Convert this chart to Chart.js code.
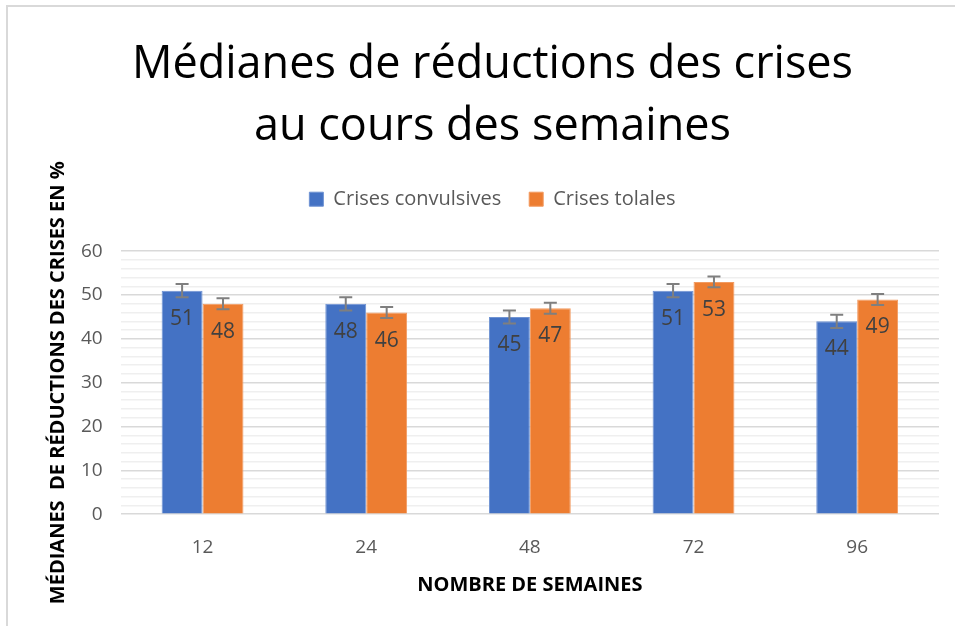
<!DOCTYPE html>
<html>
<head>
<meta charset="utf-8">
<script src="https://cdn.jsdelivr.net/npm/chart.js@4.4.1/dist/chart.umd.min.js"></script>
<style>
  body { margin: 0; background: #fff; }
  #wrap { position: relative; width: 955px; height: 626px; }
</style>
</head>
<body>
<div id="wrap"><canvas id="chart" width="955" height="626"></canvas></div>
<script>
'use strict';

var weeks = ['12', '24', '48', '72', '96'];
var convulsives = [51, 48, 45, 51, 44];
var totales = [48, 46, 47, 53, 49];
var convulsivesErr = [1.5, 1.5, 1.5, 1.5, 1.5];
var totalesErr = [1.25, 1.25, 1.25, 1.25, 1.25];
var seriesNames = ['Crises convulsives', 'Crises tolales'];
var titleLines = ['Médianes de réductions des crises', 'au cours des semaines'];

var fontName = "'Open Sans', 'Noto Sans', sans-serif";

// cadre gris en haut et a gauche, comme la capture
var framePlugin = {
   id: 'frame',
   beforeDraw: function(chart) {
      var ctx = chart.ctx;
      ctx.save();
      ctx.fillStyle = '#fff';
      ctx.fillRect(0, 0, chart.width, chart.height);
      ctx.strokeStyle = '#d9d9d9';
      ctx.lineWidth = 2;
      ctx.beginPath();
      ctx.moveTo(7, chart.height);
      ctx.lineTo(7, 6);
      ctx.lineTo(chart.width, 6);
      ctx.stroke();
      ctx.restore();
   }
};

// un peu d'air sous la legende
var legendGap = {
   id: 'legendGap',
   beforeInit: function(chart) {
      var fit = chart.legend.fit;
      chart.legend.fit = function() {
         fit.bind(chart.legend)();
         this.height += 32;
      };
   }
};

// barres d'erreur + etiquettes de valeur
var errorPlugin = {
   id: 'errorBars',
   afterDatasetsDraw: function(chart) {
      var ctx = chart.ctx;
      var yScale = chart.scales.y;
      var errs = [convulsivesErr, totalesErr];
      ctx.save();
      chart.data.datasets.forEach(function(ds, d) {
         var meta = chart.getDatasetMeta(d);
         meta.data.forEach(function(bar, i) {
            var v = ds.data[i];
            // value label inside the bar
            ctx.fillStyle = '#404040';
            ctx.font = '21px ' + fontName;
            ctx.textAlign = 'center';
            ctx.textBaseline = 'middle';
            ctx.fillText(String(v), bar.x, bar.y + 28);

            var top = yScale.getPixelForValue(v + errs[d][i]);
            var bot = yScale.getPixelForValue(v - errs[d][i]);
            ctx.strokeStyle = '#7f7f7f';
            ctx.lineWidth = 2;
            ctx.beginPath();
            ctx.moveTo(bar.x, top);
            ctx.lineTo(bar.x, bot);
            ctx.moveTo(bar.x - 6.5, top);
            ctx.lineTo(bar.x + 6.5, top);
            ctx.moveTo(bar.x - 6.5, bot);
            ctx.lineTo(bar.x + 6.5, bot);
            ctx.stroke();
         });
      });
      ctx.restore();
   }
};

var ctx = document.getElementById('chart');
new Chart(ctx, {
   type: 'bar',
   data: {
      labels: weeks,
      datasets: [{
         label: seriesNames[0],
         data: convulsives,
         backgroundColor: '#4472c4',
         borderColor: '#6f93d3',
         borderWidth: 1
      }, {
         label: seriesNames[1],
         data: totales,
         backgroundColor: '#ed7d31',
         borderColor: '#f29a60',
         borderWidth: 1
      }]
   },
   options: {
      responsive: false,
      animation: false,
      categoryPercentage: 0.5,
      barPercentage: 1.0,
      layout: { padding: { top: 34, left: 46, right: 16, bottom: 25 } },
      plugins: {
         title: {
            display: true,
            text: titleLines,
            color: '#000',
            font: { family: fontName, size: 45, weight: 'normal', lineHeight: 1.38 },
            padding: { top: 0, bottom: 3 }
         },
         legend: {
            position: 'top',
            labels: {
               color: '#595959',
               font: { family: fontName, size: 20 },
               boxWidth: 14,
               boxHeight: 14,
               padding: 28
            }
         },
         tooltip: { enabled: false }
      },
      scales: {
         x: {
            grid: { display: false },
            border: { display: false },
            ticks: { color: '#595959', font: { family: fontName, size: 19 }, padding: 14 },
            title: {
               display: true,
               text: 'NOMBRE DE SEMAINES',
               color: '#000',
               font: { family: fontName, size: 20, weight: 'bold' },
               padding: { top: 0 }
            }
         },
         y: {
            min: 0,
            max: 60,
            ticks: {
               stepSize: 2,
               autoSkip: false,
               color: '#595959',
               font: { family: fontName, size: 19 },
               padding: 18,
               callback: function(v) { return v % 10 === 0 ? v : ''; }
            },
            grid: {
               drawTicks: false,
               color: function(c) { return c.tick.value % 10 === 0 ? '#d9d9d9' : '#efefef'; },
               lineWidth: 1.5
            },
            border: { display: false },
            title: {
               display: true,
               text: 'MÉDIANES  DE RÉDUCTIONS DES CRISES EN %',
               color: '#000',
               font: { family: fontName, size: 20, weight: 'bold' },
               padding: { top: 0, bottom: -7 }
            }
         }
      }
   },
   plugins: [framePlugin, legendGap, errorPlugin]
});
</script>
</body>
</html>
